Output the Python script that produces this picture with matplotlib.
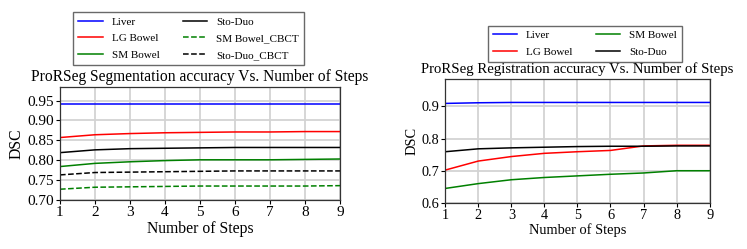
import matplotlib
matplotlib.use("Agg")
import matplotlib.pyplot as plt

plt.rcParams['font.family'] = ['Liberation Serif', 'DejaVu Serif']

steps = [1, 2, 3, 4, 5, 6, 7, 8, 9]

# Segmentation accuracy
seg_liver = [0.942, 0.942, 0.942, 0.942, 0.942, 0.942, 0.942, 0.942, 0.942]
seg_lg_bowel = [0.857, 0.864, 0.867, 0.869, 0.870, 0.871, 0.871, 0.872, 0.872]
seg_sm_bowel = [0.784, 0.792, 0.796, 0.799, 0.801, 0.801, 0.801, 0.802, 0.803]
seg_sto_duo = [0.819, 0.826, 0.829, 0.830, 0.831, 0.832, 0.832, 0.832, 0.832]
seg_sm_bowel_cbct = [0.727, 0.732, 0.733, 0.734, 0.735, 0.735, 0.735, 0.735, 0.736]
seg_sto_duo_cbct = [0.763, 0.769, 0.770, 0.771, 0.772, 0.773, 0.773, 0.773, 0.773]

# Registration accuracy
reg_liver = [0.909, 0.911, 0.912, 0.912, 0.912, 0.912, 0.912, 0.912, 0.912]
reg_lg_bowel = [0.702, 0.730, 0.744, 0.754, 0.759, 0.763, 0.777, 0.779, 0.779]
reg_sm_bowel = [0.645, 0.660, 0.672, 0.679, 0.684, 0.689, 0.693, 0.700, 0.700]
reg_sto_duo = [0.759, 0.768, 0.771, 0.773, 0.775, 0.776, 0.776, 0.777, 0.777]

fig = plt.figure(figsize=(7.47, 2.49), dpi=100)
ax1 = fig.add_axes([0.0803, 0.197, 0.375, 0.455])
ax2 = fig.add_axes([0.596, 0.185, 0.354, 0.498])

lw = 1.1
ax1.plot(steps, seg_liver, color='blue', lw=lw, label='Liver')
ax1.plot(steps, seg_lg_bowel, color='red', lw=lw, label='LG Bowel')
ax1.plot(steps, seg_sm_bowel, color='green', lw=lw, label='SM Bowel')
ax1.plot(steps, seg_sto_duo, color='black', lw=lw, label='Sto-Duo')
ax1.plot(steps, seg_sm_bowel_cbct, color='green', lw=lw, ls='--', label='SM Bowel_CBCT')
ax1.plot(steps, seg_sto_duo_cbct, color='black', lw=lw, ls='--', label='Sto-Duo_CBCT')

ax2.plot(steps, reg_liver, color='blue', lw=lw, label='Liver')
ax2.plot(steps, reg_lg_bowel, color='red', lw=lw, label='LG Bowel')
ax2.plot(steps, reg_sm_bowel, color='green', lw=lw, label='SM Bowel')
ax2.plot(steps, reg_sto_duo, color='black', lw=lw, label='Sto-Duo')

ax1.set_xlim(1, 9)
ax1.set_ylim(0.70, 0.985)
ax1.set_yticks([0.70, 0.75, 0.80, 0.85, 0.90, 0.95])
ax1.set_yticklabels(['0.70', '0.75', '0.80', '0.85', '0.90', '0.95'])
ax2.set_xlim(1, 9)
ax2.set_ylim(0.6, 0.985)
ax2.set_yticks([0.6, 0.7, 0.8, 0.9])

for ax, title, tfs, lfs, hfs in [
        (ax1, 'ProRSeg Segmentation accuracy Vs. Number of Steps', 11.0, 11.3, 11.2),
        (ax2, 'ProRSeg Registration accuracy Vs. Number of Steps', 10.3, 10.4, 10.6)]:
    ax.set_xticks(steps)
    ax.grid(True, color='#d3d3d3', lw=1.3)
    ax.set_axisbelow(True)
    ax.tick_params(labelsize=tfs, length=3, width=0.8, pad=1.5)
    ax.set_xlabel('Number of Steps', fontsize=lfs, labelpad=1)
    ax.set_ylabel('DSC', fontsize=lfs, labelpad=2)
    ax.set_title(title, fontsize=hfs, pad=4)
    for s in ax.spines.values():
        s.set_color('#333333')
        s.set_linewidth(0.9)

leg_kw = dict(ncol=2, loc='lower center', bbox_transform=fig.transFigure,
              fontsize=8, frameon=True, fancybox=False, edgecolor='#444444',
              handlelength=2.2, handletextpad=0.8, columnspacing=2.1,
              borderaxespad=0, labelspacing=0.62, borderpad=0.45)
ax1.legend(bbox_to_anchor=(0.2525, 0.739), **leg_kw)
ax2.legend(bbox_to_anchor=(0.783, 0.751), **leg_kw)

fig.savefig('out.png', dpi=100)
